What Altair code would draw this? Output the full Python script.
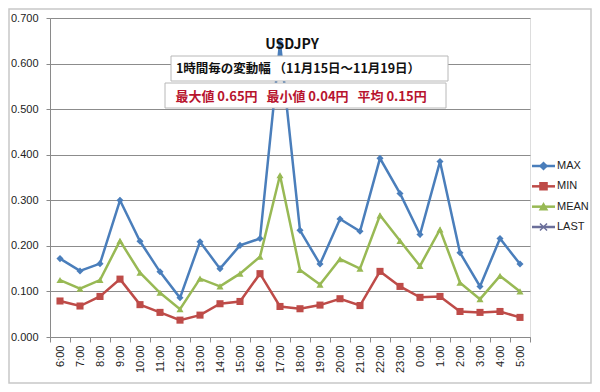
import altair as alt
import pandas as pd

hours = ["6:00", "7:00", "8:00", "9:00", "10:00", "11:00", "12:00", "13:00",
         "14:00", "15:00", "16:00", "17:00", "18:00", "19:00", "20:00", "21:00",
         "22:00", "23:00", "0:00", "1:00", "2:00", "3:00", "4:00", "5:00"]
max_vals = [0.172, 0.145, 0.161, 0.300, 0.210, 0.143, 0.086, 0.209, 0.150, 0.201,
            0.216, 0.645, 0.234, 0.160, 0.259, 0.232, 0.392, 0.315, 0.225, 0.385,
            0.185, 0.111, 0.216, 0.160]
min_vals = [0.079, 0.068, 0.089, 0.127, 0.071, 0.054, 0.037, 0.048, 0.073, 0.078,
            0.139, 0.067, 0.062, 0.070, 0.084, 0.069, 0.144, 0.111, 0.087, 0.089,
            0.056, 0.054, 0.056, 0.043]
mean_vals = [0.125, 0.106, 0.125, 0.211, 0.141, 0.097, 0.061, 0.128, 0.111, 0.139,
             0.176, 0.355, 0.147, 0.115, 0.171, 0.150, 0.267, 0.211, 0.156, 0.236,
             0.119, 0.083, 0.134, 0.100]
series_names = ["MAX", "MIN", "MEAN", "LAST"]
series_colors = ["#4a7ebb", "#be4b48", "#98b954", "#6b6f9a"]
series_shapes = ["diamond", "square", "triangle-up", "M-1,-1L1,1M1,-1L-1,1"]
y_ticks = [0.0, 0.1, 0.2, 0.3, 0.4, 0.5, 0.6, 0.7]

title_text = "USDJPY"
subtitle_text = "1時間毎の変動幅\u00a0（11月15日～11月19日）"
stats_text = "最大値\u00a00.65円\u00a0\u00a0\u00a0最小値\u00a00.04円\u00a0\u00a0\u00a0平均\u00a00.15円"

rows = []
for name, vals in [("MAX", max_vals), ("MIN", min_vals), ("MEAN", mean_vals)]:
    for h, v in zip(hours, vals):
        rows.append({"hour": h, "value": v, "series": name})
df = pd.DataFrame(rows)
legend_df = pd.DataFrame({"series": series_names, "rank": list(range(len(series_names)))})
one = pd.DataFrame({"a": [0]})

color = alt.Color("series:N", scale=alt.Scale(domain=series_names, range=series_colors), legend=None)
stroke = alt.Stroke("series:N", scale=alt.Scale(domain=series_names, range=series_colors), legend=None)
shape = alt.Shape("series:N", scale=alt.Scale(domain=series_names, range=series_shapes), legend=None)

x_enc = alt.X("hour:N", sort=hours, bandPosition=0.5,
              scale=alt.Scale(type="band", paddingInner=0, paddingOuter=0),
              axis=alt.Axis(title=None, labelAngle=270, tickBand="extent", tickSize=5,
                            labelPadding=3, domainColor="#8a8a8a", tickColor="#8a8a8a",
                            labelFontSize=11, labelColor="#222", grid=False,
                            labelFont="Liberation Sans"))
y_scale = alt.Scale(domain=[0, 0.7], nice=False, zero=True)
y_axis = alt.Axis(title=None, values=y_ticks, format=".3f", grid=True, gridColor="#8c8c8c",
                  gridWidth=1, domainColor="#8a8a8a", tickColor="#8a8a8a", tickSize=4,
                  labelPadding=8, labelFontSize=11, labelColor="#222",
                  labelFont="Liberation Sans")

border = alt.Chart(one).mark_rect(fillOpacity=0, stroke="#c8c8c8", strokeWidth=1.5).encode(
    x=alt.value(-41), x2=alt.value(541), y=alt.value(-9), y2=alt.value(365))

lines = alt.Chart(df).mark_line(strokeWidth=2.5).encode(
    x=x_enc, y=alt.Y("value:Q", scale=y_scale, axis=y_axis), color=color)

points = alt.Chart(df).mark_point(filled=True, size=50, opacity=1).encode(
    x=x_enc, y=alt.Y("value:Q", scale=y_scale, axis=None), color=color, shape=shape)

box1 = alt.Chart(one).mark_rect(fill="white", stroke="#b8b8b8", strokeWidth=1).encode(
    x=alt.value(121), x2=alt.value(398), y=alt.value(38), y2=alt.value(63))
box2 = alt.Chart(one).mark_rect(fill="white", stroke="#b8b8b8", strokeWidth=1).encode(
    x=alt.value(115), x2=alt.value(396), y=alt.value(65), y2=alt.value(90))

t_title = alt.Chart(one).mark_text(text=title_text, fontSize=14, fontWeight="bold",
                                   font="Noto Sans CJK JP", color="#111",
                                   align="center", baseline="middle").encode(
    x=alt.value(242), y=alt.value(27))
t_sub = alt.Chart(one).mark_text(text=subtitle_text, fontSize=12.5, fontWeight="bold",
                                 font="Noto Sans CJK JP", color="#111",
                                 align="center", baseline="middle").encode(
    x=alt.value(248), y=alt.value(51))
t_stats = alt.Chart(one).mark_text(text=stats_text, fontSize=13, fontWeight="bold",
                                   font="Noto Sans CJK JP", color="#b8142e",
                                   align="center", baseline="middle").encode(
    x=alt.value(251), y=alt.value(79))

leg_y = alt.Y("rank:Q", scale=alt.Scale(domain=[0, 3], range=[148, 209]), axis=None)
leg_line = alt.Chart(legend_df).mark_rule(strokeWidth=2.5).encode(
    x=alt.value(482), x2=alt.value(505), y=leg_y, color=color)
leg_pt = alt.Chart(legend_df).mark_point(filled=True, size=50, opacity=1, strokeWidth=1.5).encode(
    x=alt.value(493.5), y=leg_y, color=color, stroke=stroke, shape=shape)
leg_txt = alt.Chart(legend_df).mark_text(align="left", baseline="middle", fontSize=11,
                                         font="Liberation Sans", color="#222").encode(
    x=alt.value(507), y=leg_y, text="series:N")

chart = alt.layer(border, lines, points, box1, box2, t_title, t_sub, t_stats,
                  leg_line, leg_pt, leg_txt).resolve_scale(y="independent").properties(
    width=480, height=319,
    padding={"left": 42, "top": 10, "right": 62, "bottom": 47},
    autosize=alt.AutoSizeParams(type="none"),
).configure_view(stroke=None).configure(background="white")

chart.save("out.html", embed_options={"renderer": "svg", "actions": False})
